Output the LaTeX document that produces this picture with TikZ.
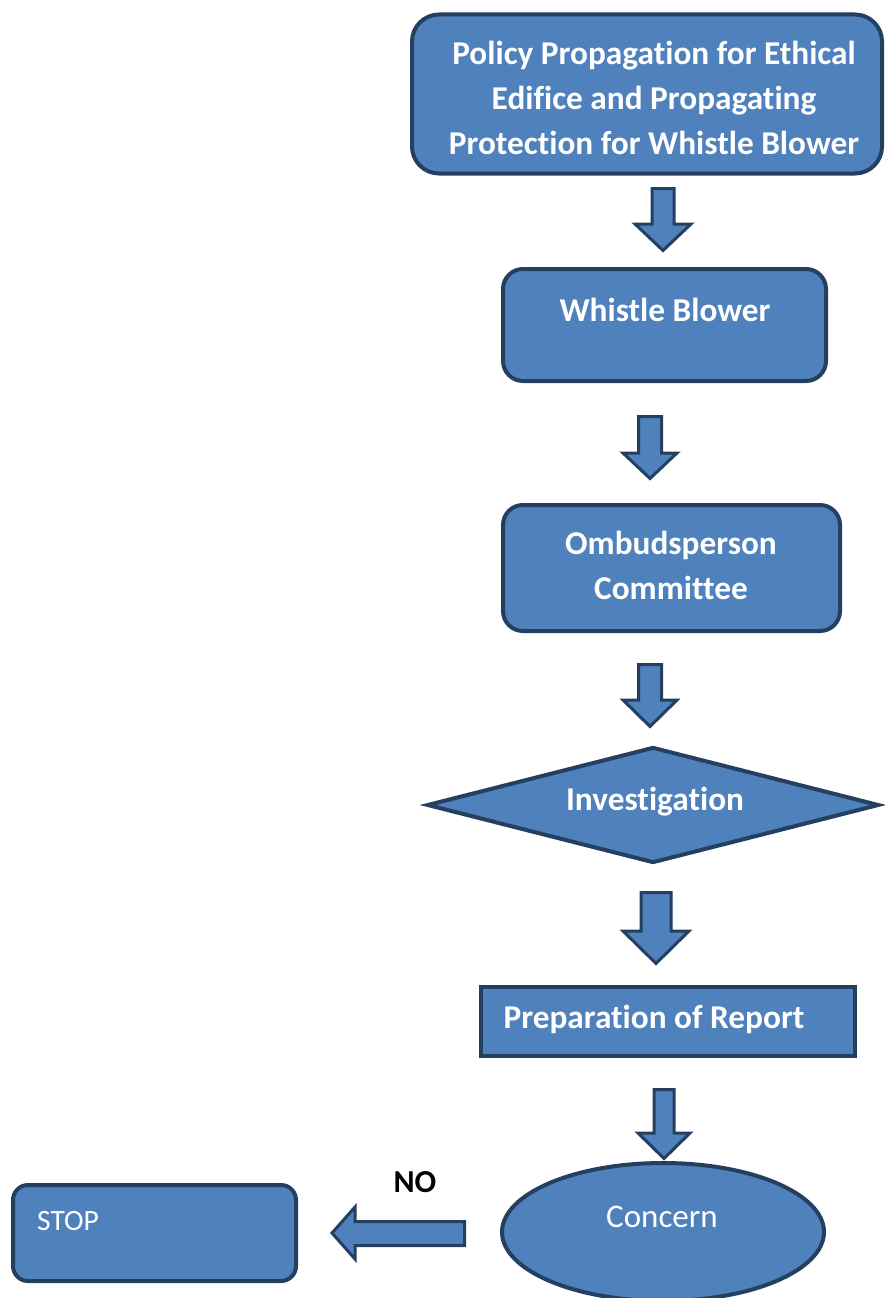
\documentclass[tikz,border=0pt]{standalone}
\usepackage{fontspec}
\setmainfont{Carlito}[Ligatures=CommonOff]
\usetikzlibrary{shapes.geometric}
\definecolor{fillblue}{HTML}{4F81BD}
\definecolor{edgeblue}{HTML}{243F60}
\newcommand\blockdown[7]{% name, x, ytop, yhead, ytip, shaft half, head half
  \draw[barrow] (#2-#6,#3) -- (#2+#6,#3) -- (#2+#6,#4) -- (#2+#7,#4) -- (#2,#5) coordinate (#1) -- (#2-#7,#4) -- (#2-#6,#4) -- cycle;}
\begin{document}
\begin{tikzpicture}[x=1pt,y=-1pt,
  box/.style={draw=edgeblue, fill=fillblue, line width=4pt, inner sep=0pt},
  rbox/.style={box, rounded corners=#1},
  barrow/.style={draw=edgeblue, fill=fillblue, line width=3pt, line join=miter},
  txt/.style={text=white, font=\bfseries\fontsize{33.3}{45}\selectfont, align=center, inner sep=0pt},
  ltxt/.style={text=white, font=\fontsize{33}{40}\selectfont, inner sep=0pt},
]
\useasboundingbox (0,0) rectangle (885,1298);

% boxes
\node[rbox=27, minimum width=470, minimum height=159] (policy) at (647,94) {};
\node[txt] (policyt) at (654,98) {Policy Propagation for Ethical\\Edifice and Propagating\\Protection for Whistle Blower};

\node[rbox=20, minimum width=323, minimum height=112] (whistle) at (664.5,325) {};
\node[txt] (whistlet) at (665,310) {Whistle Blower};

\node[rbox=20, minimum width=337, minimum height=126] (ombud) at (671.5,568) {};
\node[txt] (ombudt) at (671,565) {Ombudsperson\\Committee};

\node[box, diamond, minimum width=452, minimum height=116] (invest) at (653,805) {};
\node[txt] (investt) at (655,802) {Investigation};

\node[box, minimum width=374, minimum height=69] (prep) at (668,1021.5) {};
\node[txt] (prept) at (654,1019) {Preparation of Report};

\node[box, ellipse, minimum width=322, minimum height=138] (concern) at (663,1232) {};
\node[ltxt] (concernt) at (662,1217) {Concern};

\node[rbox=15, minimum width=283, minimum height=96] (stop) at (154.5,1233) {};
\node[ltxt, font=\fontsize{29.5}{34}\selectfont, anchor=west] (stopt) at (37,1221) {STOP};

\node[font=\bfseries\fontsize{32}{36}\selectfont, inner sep=0pt] (no) at (415,1182) {NO};

% block arrows
\blockdown{a1}{663}{188.5}{224}{250.5}{11}{28}
\blockdown{a2}{650}{416.5}{453}{478.5}{11.5}{27}
\blockdown{a3}{650}{664.5}{700}{726.5}{11.5}{27}
\blockdown{a4}{656}{892.5}{931}{963.5}{15}{33}
\blockdown{a5}{664}{1089.5}{1133}{1158.5}{10}{26}
\draw[barrow] (464.5,1221.5) -- (464.5,1245.5) -- (355,1245.5) -- (355,1259) -- (332,1233) coordinate (aleft) -- (355,1207) -- (355,1221.5) -- cycle;
\end{tikzpicture}
\end{document}
